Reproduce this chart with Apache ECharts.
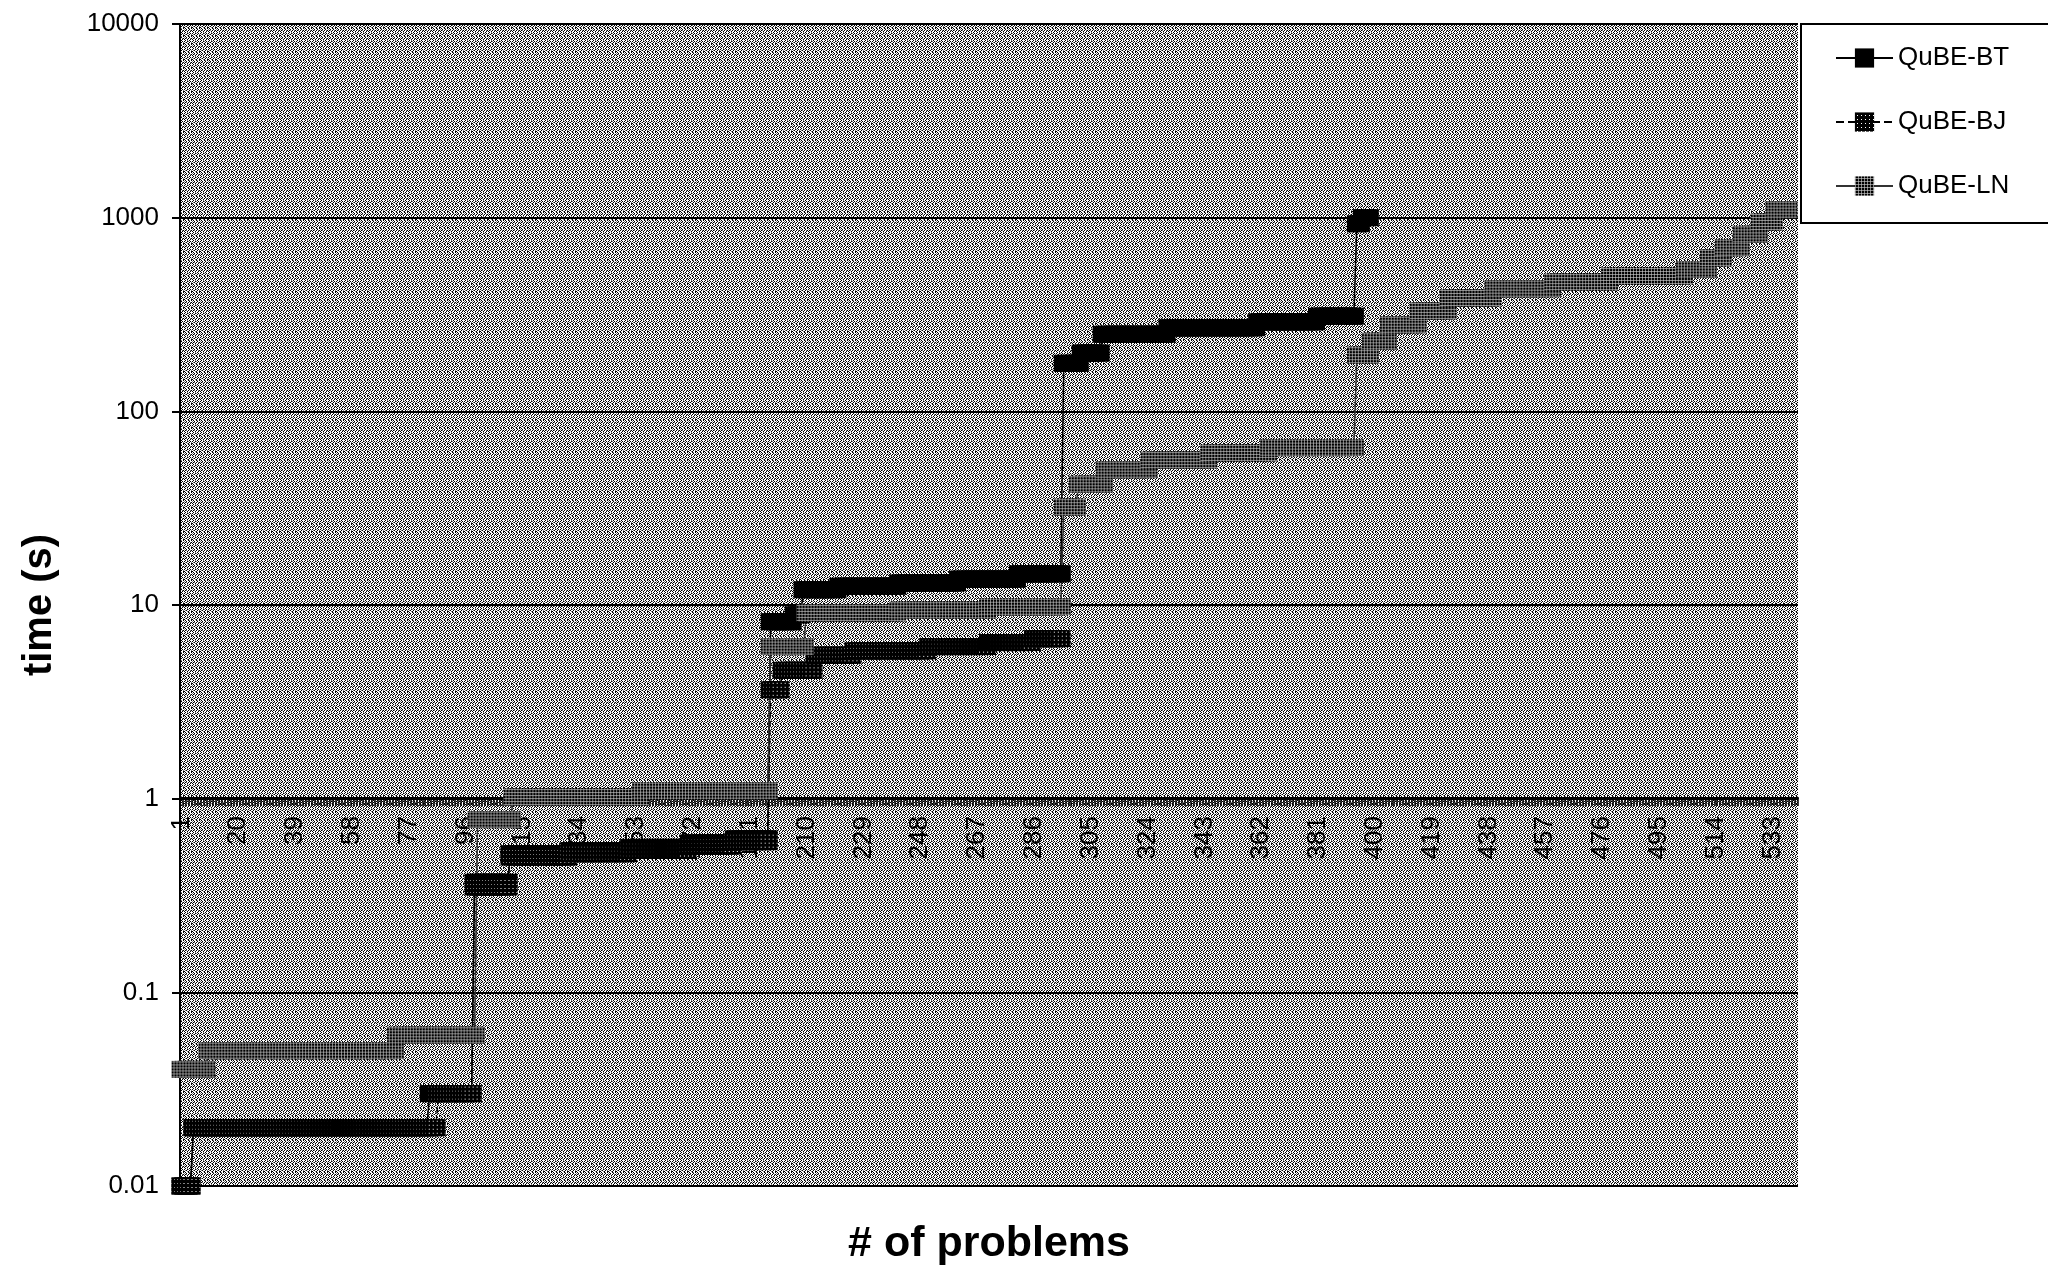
<!DOCTYPE html>
<html>
<head>
<meta charset="utf-8">
<title>QuBE run times</title>
<script src="https://cdn.jsdelivr.net/npm/echarts@6/dist/echarts.min.js"></script>
<style>
  html, body { margin: 0; padding: 0; background: #fff; }
  #chart { width: 2048px; height: 1271px; }
</style>
</head>
<body>
<div id="chart"></div>
<script>
// ---------------- data ----------------
// problems on the category axis: 1 .. 541
const problemCount = 541;
const problems = [];
for (let i = 1; i <= problemCount; i++) problems.push(String(i));

// each run = [time in s, how many problems in a row at that time]
const btRuns = [
  [0.01, 4], [0.02, 79], [0.03, 15], [0.37, 12],
  [0.52, 20], [0.54, 20], [0.56, 20], [0.59, 15], [0.62, 12],
  [8.2, 8], [8.9, 3], [12.0, 12], [12.5, 20], [13.0, 20], [13.6, 20], [14.5, 15],
  [177, 6], [200, 7], [250, 22], [270, 30], [290, 20], [310, 13],
  [930, 2], [1000, 3]
];
const bjRuns = [
  [0.01, 4], [0.02, 82], [0.03, 12], [0.35, 12],
  [0.50, 20], [0.52, 20], [0.54, 20], [0.57, 15], [0.60, 12],
  [3.65, 4], [4.6, 11], [5.5, 13], [5.8, 25], [6.1, 20], [6.4, 15], [6.7, 10]
];
const lnRuns = [
  [0.04, 9], [0.05, 63], [0.06, 27], [0.78, 12], [1.02, 43], [1.10, 43],
  [6.1, 12], [9.1, 31], [9.4, 30], [9.8, 25],
  [32, 5], [42, 9], [50, 15], [56, 20], [61, 20], [65, 29],
  [195, 5], [230, 6], [280, 10], [330, 10], [385, 15], [430, 20], [465, 19],
  [500, 25], [540, 8], [620, 5], [700, 6], [820, 6], [950, 5], [1100, 5]
];

const seriesNames = ['QuBE-BT', 'QuBE-BJ', 'QuBE-LN'];

// ---------------- helpers ----------------
function expand(runs) {
  const out = [];
  runs.forEach(function (r) {
    for (let k = 0; k < r[1]; k++) out.push(r[0]);
  });
  return out;
}

// small pixel tile -> canvas, used as repeat fill
function tile(rows) {
  const pal = { W: '#ffffff', B: '#000000', G: '#808080', L: '#b0b0b0' };
  const c = document.createElement('canvas');
  c.width = rows[0].length;
  c.height = rows.length;
  const ctx = c.getContext('2d');
  rows.forEach(function (row, y) {
    for (let x = 0; x < row.length; x++) {
      ctx.fillStyle = pal[row[x]];
      ctx.fillRect(x, y, 1, 1);
    }
  });
  return c;
}

// dithered plot background
const bgTile = tile([
  'WBWGWBWW',
  'BWWBGWBW',
  'WGBWWBWG',
  'BWWGBWWB',
  'WBWWBGWB',
  'GWBWWBWW',
  'WBGWBWGB',
  'BWWBWWBW'
]);
const bjTile = tile(['BBBB', 'BWBB', 'BBBB', 'BBBB']);
const lnTile = tile(['BGB', 'GLG', 'BGB']);

const markSize = [20, 17];
// symbols are drawn as a 2x2 path scaled up, so undo that scale on the pattern
function symPattern(img) {
  return { image: img, repeat: 'repeat', scaleX: 2 / markSize[0], scaleY: 2 / markSize[1] };
}
function plainPattern(img) {
  return { image: img, repeat: 'repeat' };
}

const font = 'Liberation Sans, Arial, sans-serif';
const gridTop = 24, gridBottom = 83;
const gridH = 1271 - gridTop - gridBottom;

// ---------------- chart ----------------
const myChart = echarts.init(document.getElementById('chart'), null, { renderer: 'canvas' });

const option = {
  animation: false,
  backgroundColor: '#fff',
  grid: {
    left: 180,
    right: 250,
    top: gridTop,
    bottom: gridBottom,
    show: true,
    borderWidth: 0,
    backgroundColor: plainPattern(bgTile)
  },
  legend: {
    left: 1801,
    top: 24,
    orient: 'vertical',
    padding: [21, 60, 24, 34],
    itemWidth: 57,
    itemHeight: 24,
    itemGap: 38,
    backgroundColor: '#fff',
    borderColor: '#000',
    borderWidth: 2,
    textStyle: { fontSize: 26, color: '#000', fontFamily: font },
    data: [
      { name: seriesNames[0], itemStyle: { color: '#000' } },
      { name: seriesNames[1], itemStyle: { color: plainPattern(bjTile) } },
      { name: seriesNames[2], itemStyle: { color: plainPattern(lnTile) } }
    ]
  },
  xAxis: {
    type: 'category',
    data: problems,
    boundaryGap: true,
    // the category axis crosses the log axis at 1 s
    offset: -gridH * 2 / 6,
    axisLine: { onZero: false, lineStyle: { color: '#000', width: 2 } },
    axisTick: { show: true, interval: 0, length: 8, lineStyle: { color: '#000', width: 1.5 } },
    axisLabel: {
      interval: 18,
      rotate: 90,
      margin: 18,
      color: '#000',
      fontSize: 26,
      fontFamily: font
    },
    splitLine: { show: false },
    name: '# of problems',
    nameLocation: 'middle',
    nameGap: 425,
    nameTextStyle: { fontSize: 43, fontWeight: 'bold', color: '#000', fontFamily: font }
  },
  yAxis: {
    type: 'log',
    logBase: 10,
    min: 0.01,
    max: 10000,
    axisLine: { show: true, lineStyle: { color: '#000', width: 2 } },
    axisTick: { show: true, length: 8, lineStyle: { color: '#000', width: 2 } },
    axisLabel: {
      margin: 21,
      color: '#000',
      fontSize: 26,
      fontFamily: font,
      formatter: function (v) { return String(parseFloat(Number(v).toPrecision(3))); }
    },
    splitLine: { show: true, lineStyle: { color: '#000', width: 2 } },
    name: 'time (s)',
    nameLocation: 'middle',
    nameRotate: 90,
    nameGap: 120,
    nameTextStyle: { fontSize: 40, fontWeight: 'bold', color: '#000', fontFamily: font }
  },
  series: [
    {
      name: seriesNames[0],
      type: 'line',
      data: expand(btRuns),
      symbol: 'rect',
      symbolSize: markSize,
      showAllSymbol: true,
      itemStyle: { color: '#000' },
      lineStyle: { color: '#000', width: 1.5 },
      emphasis: { disabled: true }
    },
    {
      name: seriesNames[1],
      type: 'line',
      data: expand(bjRuns),
      symbol: 'rect',
      symbolSize: markSize,
      showAllSymbol: true,
      itemStyle: { color: symPattern(bjTile) },
      lineStyle: { color: '#000', width: 1.5, type: 'dashed' },
      emphasis: { disabled: true }
    },
    {
      name: seriesNames[2],
      type: 'line',
      data: expand(lnRuns),
      symbol: 'rect',
      symbolSize: markSize,
      showAllSymbol: true,
      itemStyle: { color: symPattern(lnTile) },
      lineStyle: { color: '#333', width: 1.5 },
      emphasis: { disabled: true }
    }
  ]
};

myChart.setOption(option);
</script>
</body>
</html>
